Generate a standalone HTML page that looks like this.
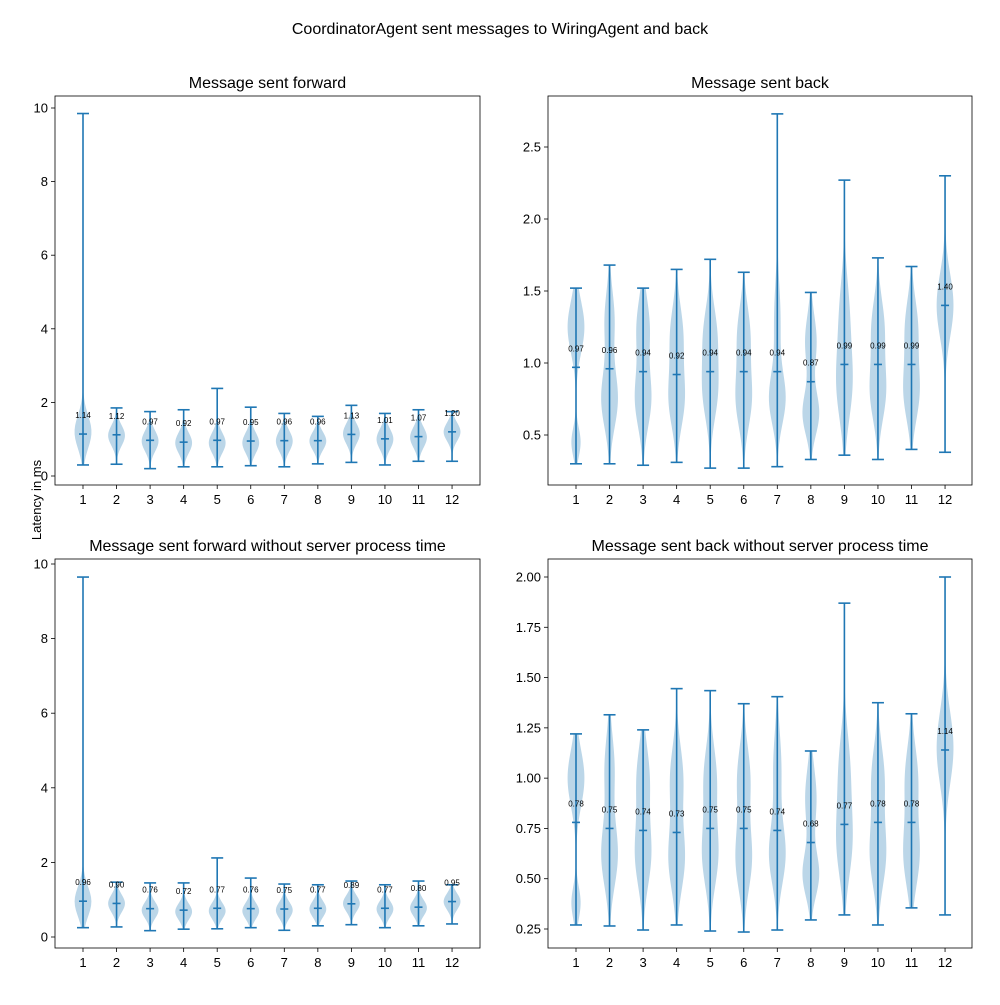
<!DOCTYPE html>
<html><head><meta charset="utf-8">
<style>
body{margin:0;background:#fff;}
svg text{font-family:"Liberation Sans","DejaVu Sans",sans-serif;}
</style></head>
<body>
<svg id="chart" width="1000" height="1000" viewBox="0 0 1000 1000">
<rect width="1000" height="1000" fill="#fff"/>
<text x="500" y="34" text-anchor="middle" font-size="16">CoordinatorAgent sent messages to WiringAgent and back</text>
<text transform="translate(41,500) rotate(-90)" text-anchor="middle" font-size="13">Latency in ms</text>
</svg>
<script>
const categories=[1,2,3,4,5,6,7,8,9,10,11,12];
const tlMeans=[1.14,1.12,0.97,0.92,0.97,0.95,0.96,0.96,1.13,1.01,1.07,1.20];
const tlMins=[0.30,0.32,0.20,0.25,0.25,0.28,0.25,0.33,0.37,0.30,0.40,0.40];
const tlMaxs=[9.85,1.85,1.75,1.80,2.38,1.87,1.70,1.62,1.92,1.70,1.80,1.75];
const tlModes=[[[1.2,0.45,1]],[[1.1,0.28,1]],[[0.95,0.28,1]],[[0.9,0.28,1]],[[0.9,0.28,1]],[[0.9,0.28,1]],[[0.95,0.28,1]],[[0.95,0.25,1]],[[1.15,0.28,1]],[[1.0,0.28,1]],[[1.05,0.28,1]],[[1.2,0.25,1]]];
const trMeans=[0.97,0.96,0.94,0.92,0.94,0.94,0.94,0.87,0.99,0.99,0.99,1.40];
const trMins=[0.30,0.30,0.29,0.31,0.27,0.27,0.28,0.33,0.36,0.33,0.40,0.38];
const trMaxs=[1.52,1.68,1.52,1.65,1.72,1.63,2.73,1.49,2.27,1.73,1.67,2.30];
const trModes=[[[0.45,0.1,0.55],[1.25,0.18,1]],[[0.75,0.2,1],[1.3,0.2,0.6]],[[0.75,0.2,1],[1.25,0.2,0.8]],[[0.75,0.2,1],[1.2,0.2,0.8]],[[0.8,0.2,1],[1.2,0.2,0.9]],[[0.75,0.2,1],[1.2,0.2,0.8]],[[0.75,0.18,1],[1.3,0.25,0.4]],[[0.65,0.15,1],[1.15,0.18,0.7]],[[0.85,0.25,1],[1.35,0.25,0.6]],[[0.8,0.2,1],[1.25,0.2,0.8]],[[0.8,0.2,1],[1.25,0.2,0.8]],[[1.4,0.22,1]]];
const blMeans=[0.96,0.90,0.76,0.72,0.77,0.76,0.75,0.77,0.89,0.77,0.80,0.95];
const blMins=[0.25,0.27,0.17,0.21,0.22,0.25,0.18,0.30,0.33,0.25,0.30,0.35];
const blMaxs=[9.65,1.47,1.45,1.45,2.12,1.58,1.42,1.40,1.50,1.40,1.50,1.40];
const blModes=[[[0.95,0.4,1]],[[0.9,0.24,1]],[[0.72,0.22,1]],[[0.68,0.22,1]],[[0.7,0.22,1]],[[0.7,0.22,1]],[[0.72,0.22,1]],[[0.75,0.22,1]],[[0.9,0.22,1]],[[0.75,0.22,1]],[[0.78,0.22,1]],[[0.95,0.22,1]]];
const brMeans=[0.78,0.75,0.74,0.73,0.75,0.75,0.74,0.68,0.77,0.78,0.78,1.14];
const brMins=[0.27,0.265,0.245,0.27,0.24,0.235,0.245,0.295,0.32,0.27,0.355,0.32];
const brMaxs=[1.22,1.315,1.24,1.445,1.435,1.37,1.405,1.135,1.87,1.375,1.32,2.00];
const brModes=[[[0.38,0.08,0.55],[1.0,0.14,1]],[[0.62,0.16,1],[1.05,0.16,0.6]],[[0.62,0.16,1],[1.0,0.16,0.8]],[[0.6,0.16,1],[1.0,0.16,0.8]],[[0.62,0.16,1],[1.0,0.16,0.8]],[[0.6,0.16,1],[1.0,0.16,0.8]],[[0.62,0.15,1],[1.05,0.18,0.5]],[[0.52,0.11,1],[0.9,0.15,0.7]],[[0.68,0.18,1],[1.05,0.18,0.7]],[[0.62,0.16,1],[1.0,0.16,0.8]],[[0.62,0.16,1],[1.0,0.16,0.8]],[[1.15,0.18,1]]];
const tlTicks=[0,2,4,6,8,10];
const trTicks=[0.5,1.0,1.5,2.0,2.5];
const blTicks=[0,2,4,6,8,10];
const brTicks=[0.25,0.50,0.75,1.00,1.25,1.50,1.75,2.00];

const svg=document.getElementById('chart');
const NS='http://www.w3.org/2000/svg';
const C='#1f77b4';
function mk(tag,attrs,parent){const e=document.createElementNS(NS,tag);for(const k in attrs)e.setAttribute(k,attrs[k]);(parent||svg).appendChild(e);return e;}

function panel(key,title,box,yv0,yp0,yv1,yp1,ticks,dec,means,mins,maxs,modes){
  const g=mk('g',{});
  
  
  const xs=v=>box.x0+28+(v-1)*33.55;
  const ys=v=>yp0+(v-yv0)*(yp1-yp0)/(yv1-yv0);
  const t=mk('text',{x:(box.x0+box.x1)/2,y:box.y0-8,'text-anchor':'middle','font-size':16},g);
  t.textContent=title;
  
  
  categories.forEach((c,i)=>{
    const x=xs(c);
    const lo=mins[i],hi=maxs[i],N=80;const pts=[];let mx=0;const d=[];
    for(let k=0;k<=N;k++){const v=lo+(hi-lo)*k/N;let s=0;modes[i].forEach(m=>{s+=m[2]*Math.exp(-0.5*((v-m[0])/m[1])**2);});d.push([v,s]);if(s>mx)mx=s;}
    const hw=8.4;
    d.forEach(p=>pts.push((x+hw*p[1]/mx).toFixed(2)+','+ys(p[0]).toFixed(2)));
    d.slice().reverse().forEach(p=>pts.push((x-hw*p[1]/mx).toFixed(2)+','+ys(p[0]).toFixed(2)));
    const body=mk('polygon',{points:pts.join(' '),fill:C,'fill-opacity':0.3},g);
    
    
    const ln=mk('line',{x1:x,x2:x,y1:ys(lo),y2:ys(hi),stroke:C,'stroke-width':1.6},g);
    
    
    [[lo,6,'min'],[hi,6,'max'],[means[i],4,'mean']].forEach(a=>{
      const l=mk('line',{x1:x-a[1],x2:x+a[1],y1:ys(a[0]),y2:ys(a[0]),stroke:C,'stroke-width':1.6},g);
      
      
    });
    const lb=mk('text',{x:x,y:ys(means[i])-16,'text-anchor':'middle','font-size':8},g);
    lb.textContent=means[i].toFixed(2);
    
    
    const tk=mk('line',{x1:x,x2:x,y1:box.y1,y2:box.y1+4,stroke:'#000','stroke-width':0.8},g);
    
    
    const tl=mk('text',{x:x,y:box.y1+19,'text-anchor':'middle','font-size':13},g);
    tl.textContent=c;
    
    
  });
  ticks.forEach(v=>{
    const y=ys(v);
    const tk=mk('line',{x1:box.x0-4,x2:box.x0,y1:y,y2:y,stroke:'#000','stroke-width':0.8},g);
    
    
    const tl=mk('text',{x:box.x0-7,y:y+4.5,'text-anchor':'end','font-size':13},g);
    tl.textContent=v.toFixed(dec);
    
    
  });
  const fr=mk('rect',{x:box.x0,y:box.y0,width:box.x1-box.x0,height:box.y1-box.y0,fill:'none',stroke:'#000','stroke-width':0.8},g);
  
  
}
panel('top-left','Message sent forward',{x0:55,x1:480,y0:96,y1:485},0,476,10,108,tlTicks,0,tlMeans,tlMins,tlMaxs,tlModes);
panel('top-right','Message sent back',{x0:548,x1:972,y0:96,y1:485},0.5,435,2.5,147,trTicks,1,trMeans,trMins,trMaxs,trModes);
panel('bottom-left','Message sent forward without server process time',{x0:55,x1:480,y0:559,y1:948},0,937,10,564,blTicks,0,blMeans,blMins,blMaxs,blModes);
panel('bottom-right','Message sent back without server process time',{x0:548,x1:972,y0:559,y1:948},0.25,929,2.0,577,brTicks,2,brMeans,brMins,brMaxs,brModes);
</script>
</body></html>
